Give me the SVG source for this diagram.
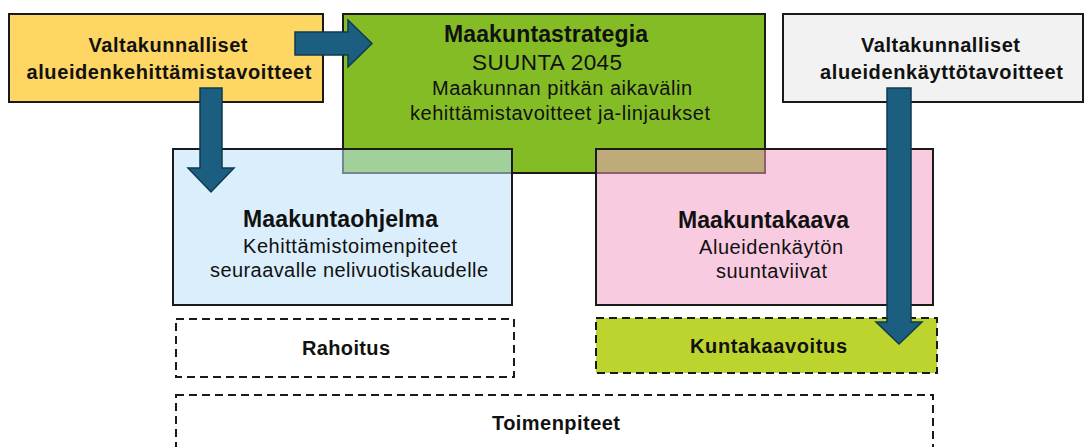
<svg xmlns="http://www.w3.org/2000/svg" width="1089" height="447" viewBox="0 0 1089 447">
<style>
.box{stroke:#1a1a1a;stroke-width:2}
.dash{stroke:#1a1a1a;stroke-width:2;stroke-dasharray:8 5}
text{font-family:"Liberation Sans",Arial,sans-serif;fill:#111;text-anchor:middle;font-size:20px}
.b{font-weight:bold}
.t{font-weight:bold;font-size:23px}
.s{font-size:22.5px}
.arrow{fill:#1b5e80;stroke:#0f3a50;stroke-width:1.5}
</style>
<rect width="1089" height="447" fill="#ffffff"/>
<g id="valtakunnalliset-kehittamis">
<rect class="box" x="9" y="14" width="314" height="88" fill="#fdd663"/>
<text class="b" x="168" y="52" textLength="159">Valtakunnalliset</text>
<text class="b" x="169" y="79" textLength="285">alueidenkehittämistavoitteet</text>
</g>
<g id="maakuntastrategia">
<rect class="box" x="343" y="14" width="422" height="159" fill="#84bc26"/>
<text class="t" x="546" y="42" textLength="204">Maakuntastrategia</text>
<text class="s" x="547" y="70" textLength="150">SUUNTA 2045</text>
<text x="562" y="95" textLength="260">Maakunnan pitkän aikavälin</text>
<text x="560" y="120" textLength="300">kehittämistavoitteet ja-linjaukset</text>
</g>
<g id="valtakunnalliset-kaytto">
<rect class="box" x="783" y="14" width="300" height="88" fill="#f2f2f2"/>
<text class="b" x="940.5" y="52" textLength="159">Valtakunnalliset</text>
<text class="b" x="941.5" y="79" textLength="243">alueidenkäyttötavoitteet</text>
</g>
<g id="maakuntaohjelma">
<rect class="box" x="173" y="149" width="339" height="156" fill="#bce0f9" fill-opacity="0.55"/>
<text class="t" x="340.5" y="227" textLength="195">Maakuntaohjelma</text>
<text x="350" y="253" textLength="214">Kehittämistoimenpiteet</text>
<text x="349" y="277" textLength="278">seuraavalle nelivuotiskaudelle</text>
</g>
<g id="maakuntakaava">
<rect class="box" x="596" y="149" width="337" height="156" fill="#f49dc4" fill-opacity="0.53"/>
<text class="t" x="763.5" y="228" textLength="171">Maakuntakaava</text>
<text x="771" y="254" textLength="144">Alueidenkäytön</text>
<text x="771.5" y="278" textLength="111">suuntaviivat</text>
</g>
<g id="rahoitus">
<rect class="dash" x="176" y="319" width="338" height="58" fill="none"/>
<text class="b" x="346" y="355" textLength="88">Rahoitus</text>
</g>
<g id="kuntakaavoitus">
<rect class="dash" x="596" y="318" width="341" height="55" fill="#bed42e"/>
<text class="b" x="768.5" y="353" textLength="157">Kuntakaavoitus</text>
</g>
<g id="toimenpiteet">
<rect class="dash" x="176" y="395" width="757" height="70" fill="none"/>
<text class="b" x="556" y="430" textLength="128">Toimenpiteet</text>
</g>
<g id="connectors">
<polygon class="arrow" points="295,32 348,32 348,20 372,43.5 348,67 348,55 295,55"/>
<polygon class="arrow" points="200,88 222,88 222,168 234,168 211,192 188,168 200,168"/>
<polygon class="arrow" points="887,88 911,88 911,322 922,322 899,344 876,322 887,322"/>
</g>
</svg>
